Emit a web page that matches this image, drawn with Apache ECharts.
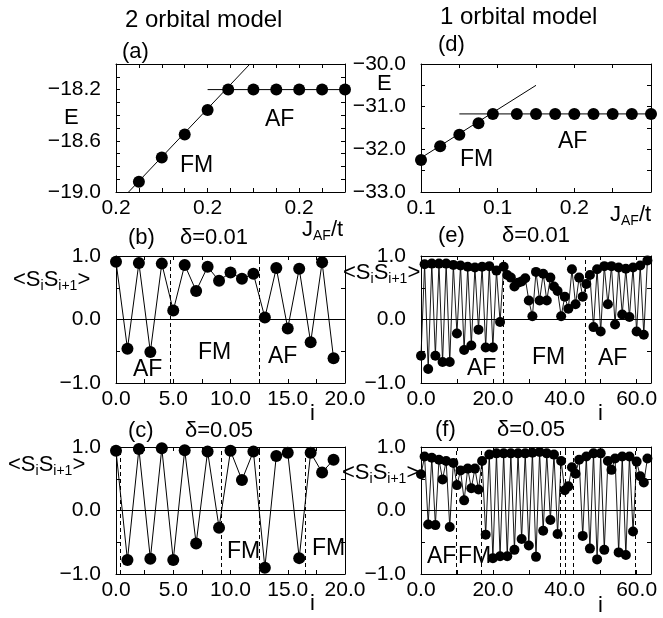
<!DOCTYPE html>
<html><head><meta charset="utf-8">
<script src="https://cdn.jsdelivr.net/npm/echarts@6/dist/echarts.min.js"></script>
<style>html,body{margin:0;padding:0;background:#fff}#c{width:663px;height:618px}</style>
</head><body><div id="c"></div>
<script>
// ---------- data ----------
// (a) 2 orbital model, energy vs J_AF/t
const jA = [0.17, 0.18, 0.19, 0.20, 0.209, 0.22, 0.23, 0.24, 0.25, 0.26];
const eA = [-18.92, -18.73, -18.55, -18.36, -18.20, -18.20, -18.20, -18.20, -18.20, -18.20];
const aFMLine = [[0.1655, -19.0], [0.2185, -18.0]];
const aAFLine = [[0.20, -18.2], [0.26, -18.2]];
// (d) 1 orbital model
const jD = [0.10, 0.11, 0.12, 0.13, 0.1375, 0.15, 0.16, 0.17, 0.18, 0.19, 0.20, 0.21, 0.22];
const eD = [-32.25, -31.93, -31.66, -31.39, -31.17, -31.17, -31.17, -31.17, -31.17, -31.17, -31.17, -31.17, -31.17];
const dFMLine = [[0.10, -32.2], [0.16, -30.5]];
const dAFLine = [[0.12, -31.17], [0.22, -31.17]];
// (b) 2 orbital, delta = 0.01
const sB = [0.91, -0.46, 0.89, -0.51, 0.88, 0.14, 0.86, 0.45, 0.83, 0.61, 0.74, 0.64, 0.72, 0.03, 0.81, -0.14, 0.80, -0.36, 0.90, -0.61];
const wallsB = [4.7, 12.5];
// (c) 2 orbital, delta = 0.05
const sC = [0.94, -0.78, 0.97, -0.76, 0.98, -0.78, 0.95, -0.52, 0.93, -0.27, 0.94, 0.48, 0.93, -0.90, 0.86, 0.91, -0.75, 0.91, 0.60, 0.80];
const wallsC = [0.4, 9.2, 12.5, 16.5];
// (e) 1 orbital, delta = 0.01
const sE = [-0.57, 0.87, -0.78, 0.88, -0.57, 0.88, -0.67, 0.88, -0.67, 0.86,
            -0.22, 0.85, -0.48, 0.83, -0.41, 0.82, -0.16, 0.83, -0.44, 0.84,
            -0.44, 0.77, -0.04, 0.83, 0.70, 0.66, 0.52, 0.58, 0.60, 0.65,
            0.30, 0.05, 0.75, 0.30, 0.72, 0.30, 0.66, 0.52, 0.45, 0.05,
            0.36, 0.17, 0.79, 0.24, 0.66, 0.36, 0.56, 0.70, -0.12, 0.79,
            -0.19, 0.84, 0.24, 0.84, -0.08, 0.82, 0.08, 0.80, 0.04, 0.82,
            -0.19, 0.85, -0.24, 0.93];
const wallsE = [22.9, 45.6];
// (f) 1 orbital, delta = 0.05
const sF = [0.57, 0.85, -0.22, 0.83, -0.23, 0.80, 0.49, 0.78, -0.26, 0.75,
            0.40, 0.63, 0.16, 0.66, 0.35, 0.66, 0.33, 0.78, -0.38, 0.88,
            -0.75, 0.90, -0.72, 0.90, -0.72, 0.90, -0.62, 0.90, -0.45, 0.90,
            -0.55, 0.91, -0.73, 0.92, -0.32, 0.90, -0.15, 0.88, -0.37, 0.78,
            0.32, 0.38, 0.68, 0.58, 0.80, -0.40, 0.85, -0.60, 0.90, -0.77,
            0.90, -0.62, 0.78, 0.64, 0.82, -0.66, 0.85, -0.70, 0.85, -0.33,
            0.77, 0.54, 0.44, 0.82];
const wallsF = [9.9, 16.9, 38.8, 40.0, 42.3, 59.5];

// ---------- chart ----------
const FONT = '"Liberation Sans", Arial, Helvetica, sans-serif';
const chart = echarts.init(document.getElementById('c'), null, {renderer: 'canvas'});

const grids = [
  {left: 116, top: 64, width: 229, height: 128},   // a
  {left: 421, top: 64, width: 230, height: 128},   // d
  {left: 116, top: 256, width: 229, height: 127},  // b
  {left: 421, top: 256, width: 230, height: 127},  // e
  {left: 116, top: 447, width: 229, height: 127},  // c
  {left: 421, top: 447, width: 230, height: 127}   // f
].map(g => Object.assign({outerBoundsMode: 'none', containLabel: false}, g));

function fmt(v) {
  const s = Math.abs(v).toFixed(1);
  return (v < -1e-9 ? '\u2212' : '') + s;
}
function isMult(d, step) {
  const r = d / step;
  return Math.abs(r - Math.round(r)) < 1e-6;
}
function axis(kind, gi, min, max, tick, lab, pos, showLabel, hideMax) {
  return {
    type: 'value', gridIndex: gi, min: min, max: max, interval: tick, position: pos,
    axisLine: {show: true, onZero: false, lineStyle: {color: '#000', width: 1}},
    axisTick: {show: true, inside: true, length: 4, lineStyle: {color: '#000', width: 1}},
    splitLine: {show: false},
    axisLabel: {
      show: showLabel, color: '#000', fontSize: 21, fontFamily: FONT,
      margin: kind === 'x' ? 6 : 15,
      showMaxLabel: hideMax ? false : null,
      formatter: v => isMult(v - min, lab) ? fmt(v) : ''
    }
  };
}
const specs = [
  {x: [0.16, 0.26, 0.01, 0.04], y: [-19, -18, 0.1, 0.4], hideMax: true},
  {x: [0.10, 0.22, 0.02, 0.04], y: [-33, -30, 0.5, 1], hideMax: true},
  {x: [0, 20, 2.5, 5], y: [-1, 1, 0.5, 1], hideMax: false},
  {x: [0, 64, 10, 20], y: [-1, 1, 0.5, 1], hideMax: true},
  {x: [0, 20, 2.5, 5], y: [-1, 1, 0.5, 1], hideMax: false},
  {x: [0, 64, 10, 20], y: [-1, 1, 0.5, 1], hideMax: true}
];
const xAxes = [], yAxes = [];
specs.forEach((s, gi) => {
  xAxes.push(axis('x', gi, s.x[0], s.x[1], s.x[2], s.x[3], 'bottom', true, s.hideMax));
  xAxes.push(axis('x', gi, s.x[0], s.x[1], s.x[2], s.x[3], 'top', false, s.hideMax));
  yAxes.push(axis('y', gi, s.y[0], s.y[1], s.y[2], s.y[3], 'left', true, false));
  yAxes.push(axis('y', gi, s.y[0], s.y[1], s.y[2], s.y[3], 'right', false, false));
});

const zip = (xs, ys) => xs.map((x, k) => [x, ys[k]]);
const idx = arr => arr.map((v, k) => [k, v]);

const series = [];
function energyPanel(gi, xs, ys, fm, af) {
  series.push({type: 'line', xAxisIndex: 2 * gi, yAxisIndex: 2 * gi, data: fm, showSymbol: false,
    lineStyle: {color: '#000', width: 1}, silent: true, z: 2});
  series.push({type: 'line', xAxisIndex: 2 * gi, yAxisIndex: 2 * gi, data: af, showSymbol: false,
    lineStyle: {color: '#000', width: 1}, silent: true, z: 2});
  series.push({type: 'scatter', xAxisIndex: 2 * gi, yAxisIndex: 2 * gi, data: zip(xs, ys),
    symbol: 'circle', symbolSize: 12, itemStyle: {color: '#000', opacity: 1}, z: 3});
}
function corrPanel(gi, vals, walls, size, lw) {
  const ml = walls.map(w => ({xAxis: w, lineStyle: {color: '#000', width: 1, type: [4, 3]}}));
  ml.push({yAxis: 0, lineStyle: {color: '#000', width: 1, type: 'solid'}});
  series.push({type: 'line', xAxisIndex: 2 * gi, yAxisIndex: 2 * gi, data: idx(vals),
    symbol: 'circle', symbolSize: size, showAllSymbol: true,
    itemStyle: {color: '#000', opacity: 1}, lineStyle: {color: '#000', width: lw}, z: 3,
    markLine: {silent: true, symbol: ['none', 'none'], label: {show: false}, animation: false,
      data: ml}});
}
energyPanel(0, jA, eA, aFMLine, aAFLine);
energyPanel(1, jD, eD, dFMLine, dAFLine);
corrPanel(2, sB, wallsB, 12, 1);
corrPanel(3, sE, wallsE, 10, 0.9);
corrPanel(4, sC, wallsC, 12, 1);
corrPanel(5, sF, wallsF, 10, 0.9);

// ---------- texts ----------
const graphic = [];
function txt(x, y, s, size) {
  graphic.push({type: 'text', left: x, top: y - size * 0.6,
    style: {text: s, fontSize: size, fontFamily: FONT, fill: '#000'}});
}
const richS = {
  n: {fontSize: 22, fontFamily: FONT, color: '#000'},
  s: {fontSize: 14, fontFamily: FONT, color: '#000', padding: [13, 0, 0, 0]}
};
const SS = '{n|<S}{s|i}{n|S}{s|i+1}{n|>}';
const JAF = '{n|J}{s|AF}{n|/t}';
function rtxt(x, y, s) {
  graphic.push({type: 'text', left: x, top: y - 14,
    style: {rich: richS, text: s, fontFamily: FONT, fill: '#000'}});
}
// top row
txt(125, 23, '2 orbital model', 24);
txt(122, 54, '(a)', 22);
txt(64, 120, 'E', 22);
txt(265, 122, 'AF', 23);
txt(180, 168, 'FM', 23);
rtxt(302, 233, JAF);
txt(440, 20, '1 orbital model', 24);
txt(438, 47, '(d)', 22);
txt(377, 86, 'E', 22);
txt(558, 144, 'AF', 23);
txt(460, 162, 'FM', 23);
rtxt(610, 218, JAF);
// middle row
txt(128, 240, '(b)', 22);
txt(180, 240, '\u03b4=0.01', 22);
rtxt(13, 283, SS);
txt(133, 372, 'AF', 23);
txt(198, 355, 'FM', 23);
txt(268, 359, 'AF', 23);
txt(310, 416, 'i', 22);
txt(438, 238, '(e)', 22);
txt(502, 238, '\u03b4=0.01', 22);
rtxt(343, 276, SS);
txt(467, 371, 'AF', 23);
txt(532, 360, 'FM', 23);
txt(598, 361, 'AF', 23);
txt(598, 416, 'i', 22);
// bottom row
txt(128, 433, '(c)', 22);
txt(185, 433, '\u03b4=0.05', 22);
rtxt(8, 468, SS);
txt(227, 554, 'FM', 23);
txt(312, 551, 'FM', 23);
txt(310, 606, 'i', 22);
txt(435, 432, '(f)', 22);
txt(497, 432, '\u03b4=0.05', 22);
rtxt(342, 476, SS);
txt(427, 559, 'AF', 23);
txt(458, 559, 'FM', 23);
txt(598, 608, 'i', 22);

chart.setOption({
  animation: false,
  backgroundColor: '#fff',
  grid: grids,
  xAxis: xAxes,
  yAxis: yAxes,
  series: series,
  graphic: graphic
});
</script>
</body></html>
